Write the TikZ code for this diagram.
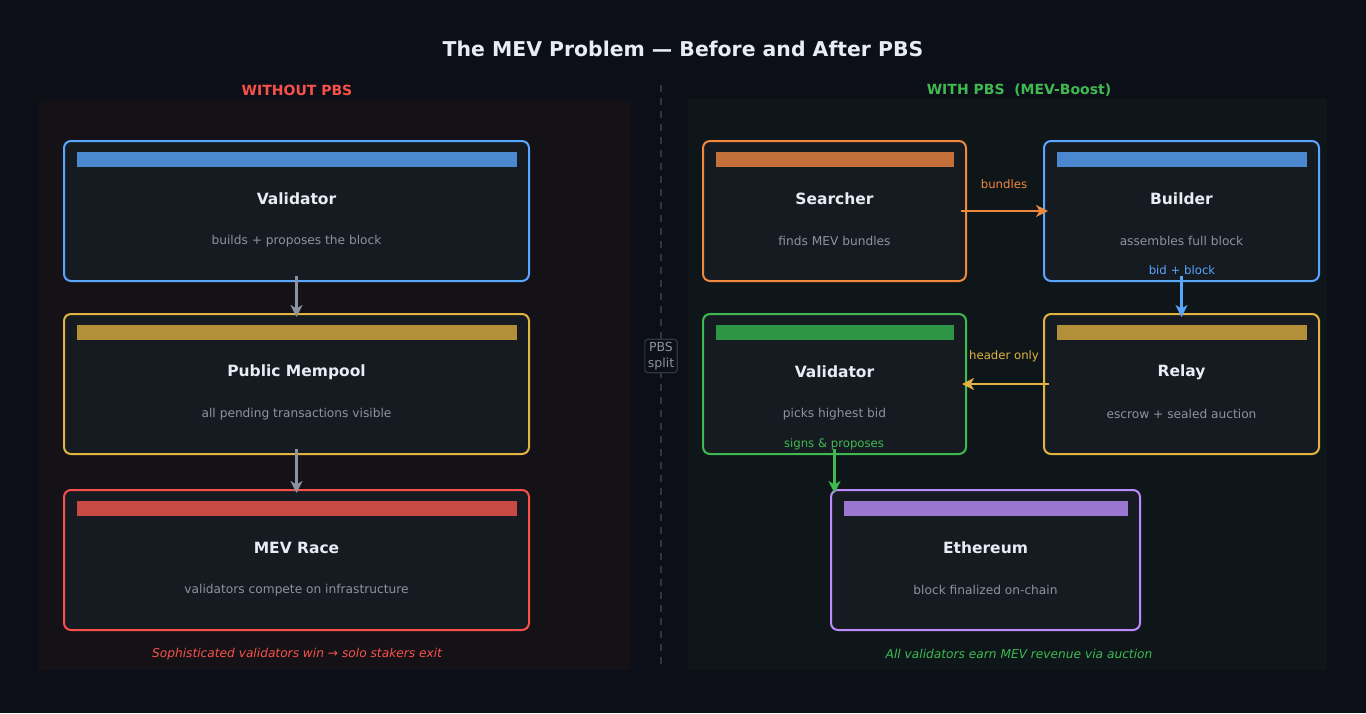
\documentclass[tikz,border=0pt]{standalone}
\usepackage{fontspec}
\setmainfont{DejaVu Sans}
\usetikzlibrary{arrows.meta}
\definecolor{bg}{HTML}{0C0F17}
\definecolor{leftpanel}{HTML}{151217}
\definecolor{rightpanel}{HTML}{0E1619}
\definecolor{boxfill}{HTML}{161B22}
\definecolor{titletext}{HTML}{E6EDF3}
\definecolor{subtext}{HTML}{8B949E}
\definecolor{cblue}{HTML}{58A6FF}\definecolor{bblue}{HTML}{4A88D0}
\definecolor{corange}{HTML}{F0883E}\definecolor{borange}{HTML}{C4703A}
\definecolor{cyellow}{HTML}{E3B341}\definecolor{byellow}{HTML}{B48F3A}
\definecolor{cred}{HTML}{F85149}\definecolor{bred}{HTML}{C94A43}
\definecolor{cgreen}{HTML}{3FB950}\definecolor{bgreen}{HTML}{2E9446}
\definecolor{cpurple}{HTML}{BC8CFF}\definecolor{bpurple}{HTML}{9A76D0}
\definecolor{cgray}{HTML}{8B949E}
\definecolor{divider}{HTML}{30363D}
\tikzset{
  card/.style={draw=#1, line width=2pt, rounded corners=7pt, fill=boxfill, inner sep=0pt, minimum height=140pt},
  cardtitle/.style={text=titletext, font=\bfseries\fontsize{15.5}{18}\selectfont, anchor=center},
  cardsub/.style={text=subtext, font=\fontsize{12.2}{15}\selectfont, anchor=center},
  flow/.style={line width=2.6pt, draw=#1, fill=#1, arrows={-Stealth[length=12pt,width=12pt,inset=3.5pt]}},
  elabel/.style={text=#1, font=\fontsize{11.7}{14}\selectfont, anchor=center},
  header/.style={font=\bfseries\fontsize{14}{17}\selectfont, anchor=center},
  foot/.style={font=\itshape\fontsize{12.2}{15}\selectfont, anchor=center}
}
\newcommand{\cardbar}[3]{% node, bar colour, right inset
  \fill[#2] ([xshift=14pt,yshift=-12pt]#1.north west) rectangle ([xshift=-#3,yshift=-27pt]#1.north east);
  }
\begin{document}
\begin{tikzpicture}[x=1pt,y=-1pt]
\fill[bg] (0,0) rectangle (1366,713);
\useasboundingbox (0,0) rectangle (1366,713);
% panels
\fill[leftpanel] (39,99) rectangle (631,670);
\fill[rightpanel] (688,99) rectangle (1327,670);
% title
\node[text=titletext, font=\bfseries\fontsize{20.4}{24}\selectfont] (title) at (683,49) {The MEV Problem — Before and After PBS};
\node[header, text=cred] (hleft) at (297,90) {WITHOUT PBS};
\node[header, text=cgreen] (hright) at (1019,90) {WITH PBS\ \ (MEV-Boost)};
% divider
\coordinate (dtop) at (661,85);
\coordinate (dbot) at (661,668);
\draw[divider, line width=1.5pt, dash pattern=on 7pt off 6pt] (dtop) -- (dbot);
\node[draw=divider, line width=1.2pt, fill=bg, rounded corners=3pt, inner sep=3pt, align=center, text=subtext, font=\fontsize{12.5}{15.5}\selectfont] (split) at (661,356) {PBS\\split};
% left column
\node[card=cblue, minimum width=465pt] (lval) at (296.5,211) {};
\cardbar{lval}{bblue}{13pt}
\node[cardtitle] (lvalt) at ([yshift=-59pt]lval.north) {Validator};
\node[cardsub] (lvals) at ([yshift=-101pt]lval.north) {builds + proposes the block};
\node[card=cyellow, minimum width=465pt] (mem) at (296.5,384) {};
\cardbar{mem}{byellow}{13pt}
\node[cardtitle] (memt) at ([yshift=-59pt]mem.north) {Public Mempool};
\node[cardsub] (mems) at ([yshift=-101pt]mem.north) {all pending transactions visible};
\node[card=cred, minimum width=465pt] (race) at (296.5,560) {};
\cardbar{race}{bred}{13pt}
\node[cardtitle] (racet) at ([yshift=-59pt]race.north) {MEV Race};
\node[cardsub] (races) at ([yshift=-101pt]race.north) {validators compete on infrastructure};
\draw[flow=cgray] ([yshift=6pt]lval.south) -- ([yshift=-4pt]mem.north);
\draw[flow=cgray] ([yshift=6pt]mem.south) -- ([yshift=-4pt]race.north);
\node[foot, text=cred] (lfoot) at (297,654) {Sophisticated validators win → solo stakers exit};
% right column
\node[card=corange, minimum width=263pt] (search) at (834.5,211) {};
\cardbar{search}{borange}{13pt}
\node[cardtitle] (searcht) at ([yshift=-59pt]search.north) {Searcher};
\node[cardsub] (searchs) at ([yshift=-101pt]search.north) {finds MEV bundles};
\node[card=cblue, minimum width=275pt] (build) at (1181.5,211) {};
\cardbar{build}{bblue}{13pt}
\node[cardtitle] (buildt) at ([yshift=-59pt]build.north) {Builder};
\node[cardsub] (builds) at ([yshift=-101pt]build.north) {assembles full block};
\node[card=cgreen, minimum width=263pt] (rval) at (834.5,384) {};
\cardbar{rval}{bgreen}{13pt}
\node[cardtitle] (rvalt) at ([yshift=-59pt]rval.north) {Validator};
\node[cardsub] (rvals) at ([yshift=-101pt]rval.north) {picks highest bid};
\node[card=cyellow, minimum width=275pt] (relay) at (1181.5,384) {};
\cardbar{relay}{byellow}{13pt}
\node[cardtitle] (relayt) at ([yshift=-59pt]relay.north) {Relay};
\node[cardsub] (relays) at ([yshift=-101pt]relay.north) {escrow + sealed auction};
\node[card=cpurple, minimum width=309pt] (eth) at (985.5,560) {};
\cardbar{eth}{bpurple}{13pt}
\node[cardtitle] (etht) at ([yshift=-59pt]eth.north) {Ethereum};
\node[cardsub] (eths) at ([yshift=-101pt]eth.north) {block finalized on-chain};
% right arrows
\draw[flow=corange] ([xshift=-6pt]search.east) -- ([xshift=5pt]build.west);
\node[elabel=corange] (lbund) at (1004,184) {bundles};
\draw[flow=cblue] ([yshift=6pt]build.south) -- ([yshift=-4pt]relay.north);
\node[elabel=cblue] (lbid) at (1182,270) {bid + block};
\draw[flow=cyellow] ([xshift=6pt]relay.west) -- ([xshift=-5pt]rval.east);
\node[elabel=cyellow] (lhead) at (1004,356) {header only};
\draw[flow=cgreen] ([yshift=6pt]rval.south) -- ([yshift=-4pt]eth.north -| rval.south);
\node[elabel=cgreen] (lsign) at (834,444) {signs \& proposes};
\node[foot, text=cgreen] (rfoot) at (1019,654) {All validators earn MEV revenue via auction};
\end{tikzpicture}
\end{document}
